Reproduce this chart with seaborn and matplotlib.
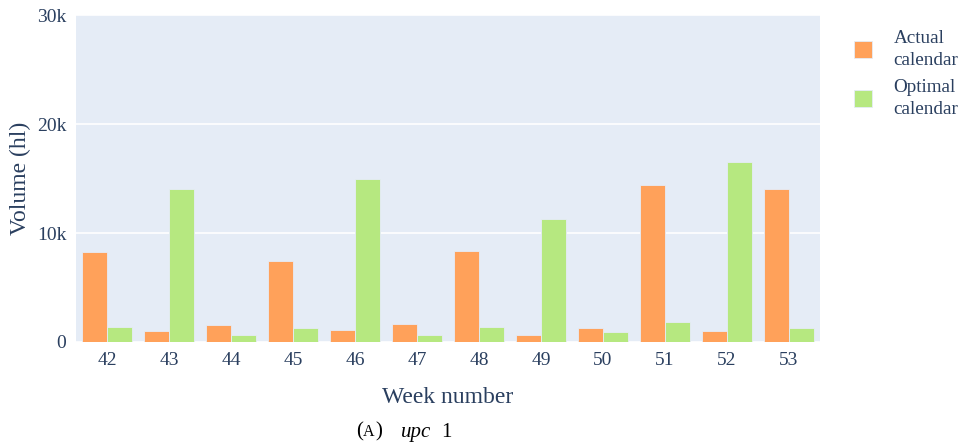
import matplotlib
matplotlib.use("Agg")
import matplotlib.pyplot as plt
from matplotlib.ticker import FuncFormatter, FixedLocator
import numpy as np
import pandas as pd
import seaborn as sns

weeks = ["42", "43", "44", "45", "46", "47", "48", "49", "50", "51", "52", "53"]
actual = [8240, 1010, 1600, 7440, 1080, 1630, 8330, 620, 1260, 14440, 1050, 14050]
optimal = [1420, 14010, 645, 1290, 15000, 620, 1420, 11310, 890, 1840, 16530, 1260]
series_names = ["Actual\ncalendar", "Optimal\ncalendar"]
y_ticks = [0, 10000, 20000, 30000]

df = pd.DataFrame({
    "week": weeks * 2,
    "volume": actual + optimal,
    "series": [series_names[0]] * len(weeks) + [series_names[1]] * len(weeks),
})

sns.set_theme(style="white")
plt.rcParams["font.family"] = ["Liberation Serif", "DejaVu Serif"]

text_color = "#2a3f5f"
fig = plt.figure(figsize=(9.62, 4.48), dpi=100)
ax = fig.add_axes([76 / 962, 1 - 342 / 448, (820 - 76) / 962, (342 - 15) / 448])
ax.set_facecolor("#E5ECF6")

sns.barplot(data=df, x="week", y="volume", hue="series",
            palette=["#FFA15A", "#B6E880"], width=0.8, saturation=1,
            edgecolor="#E5ECF6", linewidth=0.6, ax=ax, zorder=3)

ax.set_ylim(0, 30000)
ax.set_xlim(-0.5, len(weeks) - 0.5)
ax.yaxis.set_major_locator(FixedLocator(y_ticks))
ax.yaxis.set_major_formatter(FuncFormatter(lambda v, p: "0" if v == 0 else f"{int(v / 1000)}k"))
ax.grid(axis="y", color="white", linewidth=1.2, zorder=0)
ax.set_axisbelow(True)
for s in ax.spines.values():
    s.set_visible(False)
ax.tick_params(axis="both", length=0, labelsize=14, colors=text_color, pad=7)
ax.set_xlabel("Week number", fontsize=17, color=text_color, labelpad=13)
ax.set_ylabel("Volume (hl)", fontsize=17, color=text_color, labelpad=4)

handles, labels = ax.get_legend_handles_labels()
ax.legend_.remove()
leg = fig.legend(handles, labels, loc="upper left", bbox_to_anchor=(837 / 962, 1 - 13 / 448),
                 frameon=False, fontsize=13.8, handlelength=0.95, handleheight=0.95,
                 handletextpad=1.1, labelspacing=0.5, labelcolor=text_color)
for t in leg.get_texts():
    t.set_linespacing(1.4)

# Caption beneath the figure
cap_y = 1 - 432 / 448
fig.text(356 / 962, cap_y, "(", fontsize=15, color="black", va="center")
fig.text(363 / 962, cap_y, "A", fontsize=11.5, color="black", va="center")
fig.text(375 / 962, cap_y, ")", fontsize=15, color="black", va="center")
fig.text(401 / 962, cap_y, "upc", fontsize=15, style="italic", color="black", va="center")
fig.text(441 / 962, cap_y, "1", fontsize=15, color="black", va="center")

fig.savefig("out.png", dpi=100)
